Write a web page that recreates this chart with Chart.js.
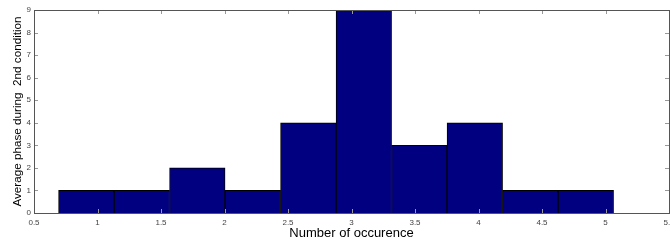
<!DOCTYPE html>
<html>
<head>
<meta charset="utf-8">
<script src="https://cdn.jsdelivr.net/npm/chart.js@4.4.0/dist/chart.umd.min.js"></script>
<style>
  html, body { margin: 0; padding: 0; background: #fff; }
  #wrap { width: 670px; height: 240px; overflow: hidden; }
</style>
</head>
<body>
<div id="wrap"><canvas id="c" width="690" height="240"></canvas></div>
<script>
// histogram bins (centres) and counts
var binCenters = [0.912, 1.349, 1.786, 2.223, 2.660, 3.097, 3.534, 3.971, 4.408, 4.845];
var counts = [1, 1, 2, 1, 4, 9, 3, 4, 1, 1];
var xTitle = "Number of occurence";
var yTitle = "Average phase during  2nd condition";

var points = binCenters.map(function (c, i) { return { x: c, y: counts[i] }; });

// matlab style box with inward ticks
var boxTicks = {
    id: 'boxTicks',
    afterDatasetsDraw: function (chart) {
        var ctx = chart.ctx, a = chart.chartArea;
        var xs = chart.scales.x, ys = chart.scales.y;
        var len = 4;
        ctx.save();
        ctx.lineWidth = 1;
        ctx.strokeStyle = '#999';
        ctx.beginPath();
        xs.ticks.forEach(function (t) {
            var px = Math.round(xs.getPixelForValue(t.value)) + 0.5;
            ctx.moveTo(px, a.bottom); ctx.lineTo(px, a.bottom - len);
            ctx.moveTo(px, a.top); ctx.lineTo(px, a.top + len);
        });
        ys.ticks.forEach(function (t) {
            var py = Math.round(ys.getPixelForValue(t.value)) + 0.5;
            ctx.moveTo(a.left, py); ctx.lineTo(a.left + len, py);
            ctx.moveTo(a.right, py); ctx.lineTo(a.right - len, py);
        });
        ctx.stroke();
        ctx.strokeStyle = '#555';
        ctx.strokeRect(Math.round(a.left) + 0.5, Math.round(a.top) + 0.5,
            Math.round(a.right - a.left), Math.round(a.bottom - a.top));
        ctx.restore();
    }
};

new Chart(document.getElementById('c'), {
    type: 'bar',
    data: {
        datasets: [{
            data: points,
            backgroundColor: '#000080',
            borderColor: '#000000',
            borderWidth: 1,
            barPercentage: 1,
            categoryPercentage: 1
        }]
    },
    options: {
        responsive: false,
        animation: false,
        layout: { padding: { top: 10, right: 21, left: 0, bottom: 0 } },
        plugins: { legend: { display: false }, tooltip: { enabled: false } },
        scales: {
            x: {
                type: 'linear',
                offset: false,
                min: 0.5,
                max: 5.5,
                grid: { display: false, drawTicks: false },
                border: { display: false },
                ticks: {
                    stepSize: 0.5,
                    autoSkip: false,
                    maxRotation: 0,
                    padding: 5,
                    color: '#444',
                    font: { family: 'Liberation Sans', size: 8 },
                    callback: function (v) { return String(v); }
                },
                title: {
                    display: true,
                    text: xTitle,
                    color: '#000',
                    padding: { top: 0, bottom: -1 },
                    font: { family: 'Liberation Sans', size: 13 }
                },
                afterFit: function (s) { s.height = 27; }
            },
            y: {
                min: 0,
                max: 9,
                grid: { display: false, drawTicks: false },
                border: { display: false },
                ticks: {
                    stepSize: 1,
                    padding: 3,
                    color: '#444',
                    font: { family: 'Liberation Sans', size: 8 }
                },
                title: {
                    display: true,
                    text: yTitle,
                    color: '#000',
                    padding: { top: 11, bottom: 0 },
                    font: { family: 'Liberation Sans', size: 11.7 }
                },
                afterFit: function (s) { s.width = 34; }
            }
        }
    },
    plugins: [boxTicks]
});
</script>
</body>
</html>
